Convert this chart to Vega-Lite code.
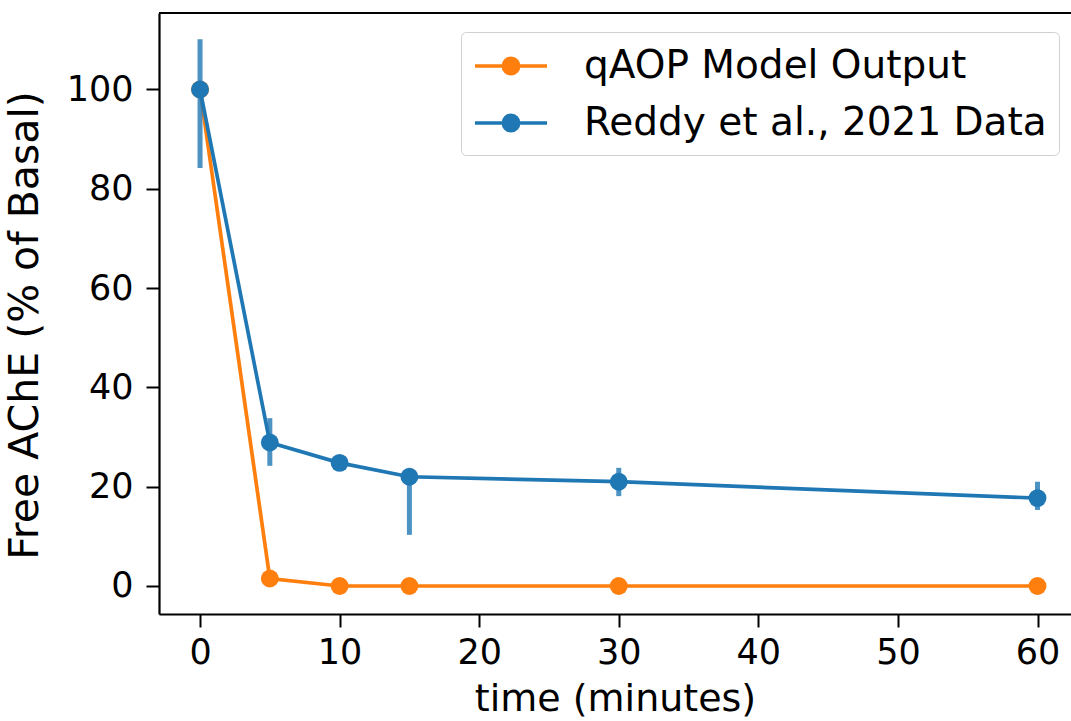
{
  "$schema": "https://vega.github.io/schema/vega-lite/v6.json",
  "autosize": {"type": "none"},
  "padding": {"left": 159, "top": 13, "right": 0, "bottom": 107},
  "width": 912,
  "height": 601,
  "background": "white",
  "config": {
    "font": "DejaVu Sans",
    "view": {"stroke": null},
    "axis": {
      "labelFont": "DejaVu Sans",
      "titleFont": "DejaVu Sans",
      "labelFontSize": 35,
      "titleFontSize": 38,
      "titleFontWeight": "normal",
      "labelColor": "black",
      "titleColor": "black",
      "domainColor": "black",
      "tickColor": "black",
      "domainWidth": 2.2,
      "tickWidth": 2,
      "tickSize": 13,
      "grid": false
    }
  },
  "data": {
    "values": [
      {"series": "qAOP Model Output", "time": 0, "value": 100},
      {"series": "qAOP Model Output", "time": 5, "value": 1.5},
      {"series": "qAOP Model Output", "time": 10, "value": 0},
      {"series": "qAOP Model Output", "time": 15, "value": 0},
      {"series": "qAOP Model Output", "time": 30, "value": 0},
      {"series": "qAOP Model Output", "time": 60, "value": 0},
      {"series": "Reddy et al., 2021 Data", "time": 0, "value": 100, "lo": 84.2, "hi": 110.1},
      {"series": "Reddy et al., 2021 Data", "time": 5, "value": 28.9, "lo": 24.2, "hi": 33.8},
      {"series": "Reddy et al., 2021 Data", "time": 10, "value": 24.8, "lo": 24.0, "hi": 25.6},
      {"series": "Reddy et al., 2021 Data", "time": 15, "value": 22.0, "lo": 10.3, "hi": 22.5},
      {"series": "Reddy et al., 2021 Data", "time": 30, "value": 21.0, "lo": 18.1, "hi": 23.8},
      {"series": "Reddy et al., 2021 Data", "time": 60, "value": 17.7, "lo": 15.3, "hi": 21.0}
    ]
  },
  "encoding": {
    "x": {
      "field": "time",
      "type": "quantitative",
      "scale": {"domain": [-2.94, 62.4], "nice": false, "zero": false},
      "axis": {"values": [0, 10, 20, 30, 40, 50, 60], "title": "time (minutes)", "labelPadding": 8, "titlePadding": 10, "labelFlush": false}
    },
    "y": {
      "field": "value",
      "type": "quantitative",
      "scale": {"domain": [-5.64, 115.4], "nice": false, "zero": false},
      "axis": {"values": [0, 20, 40, 60, 80, 100], "title": "Free AChE (% of Basal)", "titleFontSize": 41, "titleY": 312, "labelPadding": 13, "titlePadding": 20, "labelFlush": false}
    }
  },
  "layer": [
    {
      "mark": {"type": "rule", "color": "black", "strokeWidth": 2.2},
      "encoding": {"y": {"datum": 115.4, "type": "quantitative"}, "x": null}
    },
    {
      "transform": [{"filter": "datum.series === 'qAOP Model Output'"}],
      "mark": {"type": "line", "strokeWidth": 3.7, "point": {"filled": true, "size": 320, "opacity": 1}},
      "encoding": {
        "color": {
          "field": "series",
          "type": "nominal",
          "scale": {"domain": ["qAOP Model Output", "Reddy et al., 2021 Data"], "range": ["#ff7f0e", "#1f77b4"]},
          "legend": {
            "orient": "none",
            "legendX": 302,
            "legendY": 19,
            "title": null,
            "padding": 12,
            "strokeColor": "#d0d0d0",
            "fillColor": "white",
            "cornerRadius": 5,
            "labelFont": "DejaVu Sans",
            "labelFontSize": 39,
            "labelColor": "black",
            "labelLimit": 0,
            "labelOffset": 67,
            "rowPadding": 15,
            "symbolType": "M-1,0H2.6M0.42,0A0.38,0.38 0 1,0 1.18,0A0.38,0.38 0 1,0 0.42,0",
            "symbolSize": 1600,
            "symbolStrokeWidth": 3.7,
            "symbolOpacity": 1,
            "encode": {"symbols": {"update": {"fill": {"scale": "color", "field": "value"}, "stroke": {"scale": "color", "field": "value"}, "strokeWidth": {"value": 3.7}}}}
          }
        }
      }
    },
    {
      "transform": [{"filter": "datum.series === 'Reddy et al., 2021 Data' && datum.lo != null"}],
      "mark": {"type": "rule", "color": "#1f77b4", "opacity": 0.8, "strokeWidth": 5},
      "encoding": {"y": {"field": "lo", "type": "quantitative"}, "y2": {"field": "hi"}}
    },
    {
      "transform": [{"filter": "datum.series === 'Reddy et al., 2021 Data'"}],
      "mark": {"type": "line", "strokeWidth": 3.7, "point": {"filled": true, "size": 320, "opacity": 1}},
      "encoding": {
        "color": {"field": "series", "type": "nominal"}
      }
    }
  ]
}
